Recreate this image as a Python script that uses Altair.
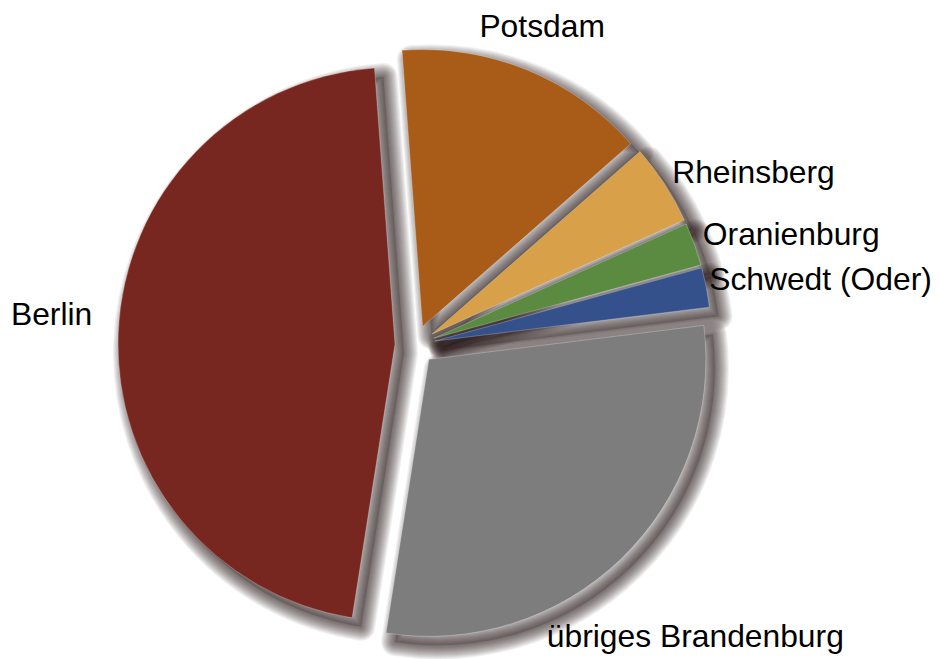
import altair as alt
import pandas as pd
import math

# ---- data -------------------------------------------------------------
regions = ["Berlin", "Potsdam", "Rheinsberg", "Oranienburg",
           "Schwedt (Oder)", "übriges Brandenburg"]
shares = [46.3, 14.7, 4.7, 2.5, 2.3, 29.4]
colors = ["#77271f", "#a95b18", "#d7a049", "#5b8a41", "#34518b", "#7c7d7c"]

df = pd.DataFrame({"region": regions, "share": shares,
                   "idx": list(range(len(regions)))})

# ---- layout / style constants ------------------------------------------
W, H = 923, 651
CX, CY = 407, 337          # pie centre (chart coords)
R = 277                    # pie radius
EXPLODE = 20               # explode distance
START = math.radians(188.9)  # start angle of first slice (Berlin)
FONT = "Liberation Sans"
FS = 31.8

base = (
    alt.Chart(df)
    .transform_window(cum="sum(share)", sort=[alt.SortField("idx")], frame=[None, 0])
    .transform_joinaggregate(total="sum(share)")
    .transform_calculate(t1=f"{START} + 2*PI*datum.cum/datum.total")
    .transform_calculate(t0="datum.t1 - 2*PI*datum.share/datum.total")
    .transform_calculate(mid="(datum.t0 + datum.t1)/2")
    .transform_calculate(
        cx=f"{CX} + {EXPLODE}*sin(datum.mid)",
        cy=f"{CY} - {EXPLODE}*cos(datum.mid)",
    )
)

arc_enc = dict(
    theta=alt.Theta("t0:Q", scale=None, stack=None),
    theta2=alt.Theta2("t1:Q"),
    x=alt.X("cx:Q", scale=None, axis=None),
    y=alt.Y("cy:Q", scale=None, axis=None),
)

layers = []
# soft drop shadow: a filled core plus many thin translucent strokes
SH = "#1c1515"
OFF = 9
layers.append(base.mark_arc(radius=R, fill=SH, fillOpacity=0.2,
                            xOffset=OFF, yOffset=OFF).encode(**arc_enc))
for k in range(1, 15):
    layers.append(
        base.mark_arc(radius=R, fill=SH, fillOpacity=0, stroke=SH,
                      strokeOpacity=0.06, strokeWidth=2 * k, strokeJoin="round",
                      xOffset=OFF, yOffset=OFF).encode(**arc_enc)
    )

# slices
layers.append(
    base.mark_arc(radius=R, stroke="#ffffff", strokeOpacity=0.25, strokeWidth=1)
    .encode(color=alt.Color("region:N",
                            scale=alt.Scale(domain=regions, range=colors),
                            legend=None),
            **arc_enc)
)


def label_layer(names, rad, align, dx=0, dy=0):
    return (
        base.transform_filter(alt.FieldOneOfPredicate(field="region", oneOf=names))
        .transform_calculate(
            lx=f"{CX} + {rad}*sin(datum.mid)",
            ly=f"{CY} - {rad}*cos(datum.mid)",
        )
        .mark_text(align=align, baseline="alphabetic", dx=dx, dy=dy,
                   font=FONT, fontSize=FS, color="#000000")
        .encode(x=alt.X("lx:Q", scale=None, axis=None),
                y=alt.Y("ly:Q", scale=None, axis=None),
                text="region:N")
    )


layers.append(label_layer(["Rheinsberg", "Oranienburg"], 306, "left", dy=4))
layers.append(label_layer(["Schwedt (Oder)"], 306, "left", dx=-6, dy=4))
layers.append(label_layer(["Potsdam"], 336, "center", dy=3))
layers.append(label_layer(["Berlin"], 323, "right", dy=-7))
layers.append(label_layer(["übriges Brandenburg"], 306, "left", dx=-81, dy=82))

chart = (
    alt.layer(*layers)
    .properties(width=W, height=H, padding=0,
                autosize=alt.AutoSizeParams(type="none"),
                background="#ffffff")
    .configure_view(stroke=None)
)

chart.save("out.html", embed_options={"renderer": "svg", "actions": False})
